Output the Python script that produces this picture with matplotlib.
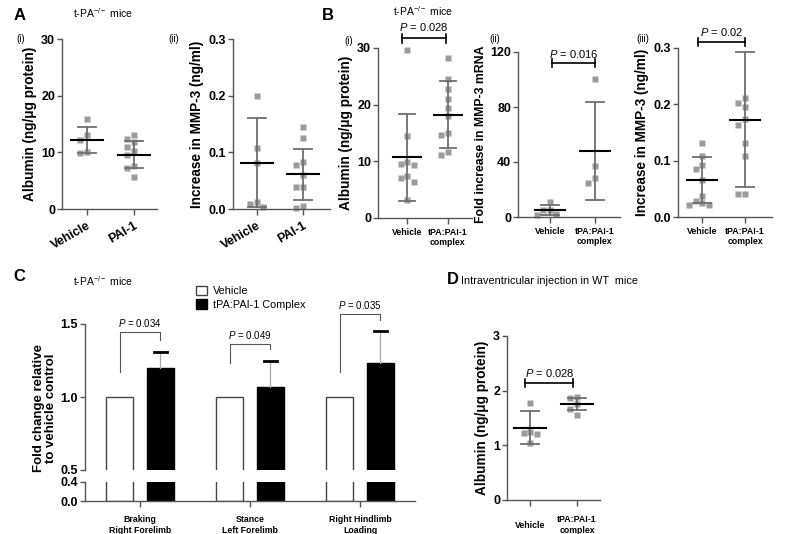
import numpy as np
import matplotlib
matplotlib.use("Agg")
import matplotlib.pyplot as plt
from matplotlib.patches import Patch

W, H = 789, 534
plt.rcParams['font.family'] = ['Liberation Sans', 'DejaVu Sans']
plt.rcParams['mathtext.fontset'] = 'custom'
plt.rcParams['mathtext.rm'] = 'Liberation Sans'
plt.rcParams['mathtext.it'] = 'Liberation Sans:italic'

# ---- panel A: t-PA-/- mice, Vehicle vs PAI-1
a_cats = ['Vehicle', 'PAI-1']
a1_vehicle = [15.9, 13.0, 12.2, 10.0, 9.8]
a1_pai1 = [13.1, 12.4, 11.8, 11.0, 10.3, 9.6, 7.6, 7.2, 5.7]
a1_mean = [12.2, 9.6]
a1_sd = [2.3, 2.4]
a2_vehicle = [0.200, 0.107, 0.081, 0.013, 0.008, 0.004]
a2_pai1 = [0.144, 0.125, 0.083, 0.077, 0.060, 0.039, 0.038, 0.006, 0.002]
a2_mean = [0.082, 0.061]
a2_sd = [0.079, 0.045]

# ---- panel B: t-PA-/- mice, Vehicle vs tPA:PAI-1 complex
b_cats = ['Vehicle', 'tPA:PAI-1\ncomplex']
b1_vehicle = [29.7, 14.4, 9.9, 9.5, 9.4, 7.5, 7.1, 6.4, 3.2]
b1_complex = [28.2, 24.5, 22.8, 21.0, 19.5, 18.0, 15.0, 14.6, 11.6, 11.2]
b1_mean = [10.7, 18.2]
b1_sd = [7.7, 5.9]
b2_vehicle = [11.0, 5.4, 4.8, 2.4, 1.2]
b2_complex = [100.5, 37.2, 28.5, 24.8]
b2_mean = [5.0, 47.8]
b2_sd = [3.8, 35.6]
b3_vehicle = [0.131, 0.108, 0.092, 0.086, 0.065, 0.037, 0.028, 0.025, 0.021, 0.021]
b3_complex = [0.212, 0.203, 0.196, 0.174, 0.163, 0.131, 0.108, 0.040, 0.040]
b3_mean = [0.065, 0.173]
b3_sd = [0.041, 0.120]

# ---- panel C: gait parameters
c_groups = ['Braking\nRight Forelimb', 'Stance\nLeft Forelimb', 'Right Hindlimb\nLoading']
c_vehicle = [1.0, 1.0, 1.0]
c_complex = [1.20, 1.07, 1.23]
c_complex_err = [0.11, 0.18, 0.22]
c_pvals = ['0.034', '0.049', '0.035']

# ---- panel D: intraventricular injection in WT mice
d_vehicle = [1.78, 1.24, 1.22, 1.20, 1.05]
d_complex = [1.885, 1.87, 1.76, 1.67, 1.55]
d_mean = [1.32, 1.75]
d_sd = [0.30, 0.11]

GREY = '#9c9c9c'
SPINE = '#555555'


def px_rect(x0, y0, x1, y1):
    return [x0 / W, 1 - y1 / H, (x1 - x0) / W, (y1 - y0) / H]


def style_axis(ax):
    for s in ['top', 'right']:
        ax.spines[s].set_visible(False)
    for s in ['left', 'bottom']:
        ax.spines[s].set_color(SPINE)
        ax.spines[s].set_linewidth(1.0)
    ax.tick_params(colors=SPINE, length=4, width=1.0, labelcolor='black')
    ax.tick_params(axis='y', pad=1.5, length=3.5)


def swarm(vals, x0, dx, dy):
    # simple deterministic beeswarm so squares don't overlap
    xs = np.zeros(len(vals))
    placed = []
    for i in np.argsort(vals)[::-1]:
        v = vals[i]
        for k in [0, -1, 1, -2, 2, -3, 3]:
            x = x0 + k * dx
            if all(abs(x - px) > dx * 0.9 or abs(v - pv) > dy for px, pv in placed):
                break
        placed.append((x, v))
        xs[i] = x
    return xs


def dot_panel(rect, xlim, ylim, yticks, yfmt, ylabel, cats, groups, means, sds,
              rotate=False, ylabel_pad=3, xva='top', ylabel_size=9.8):
    ax = fig.add_axes(px_rect(*rect))
    style_axis(ax)
    ax.set_xlim(*xlim)
    ax.set_ylim(*ylim)
    wpx = rect[2] - rect[0]
    hpx = rect[3] - rect[1]
    dx = 6.5 / (wpx / (xlim[1] - xlim[0]))
    dy = 6.5 / (hpx / (ylim[1] - ylim[0]))
    for i, vals in enumerate(groups):
        vals = np.asarray(vals)
        xs = swarm(vals, i, dx, dy)
        ax.plot(xs, vals, 's', ms=4.5, color=GREY, mec='none', clip_on=False, zorder=2)
        lo, hi = means[i] - sds[i], means[i] + sds[i]
        ax.plot([i, i], [max(lo, ylim[0]), hi], color='#6e6e6e', lw=1.3, zorder=3, clip_on=False)
        for y in (lo, hi):
            if y >= ylim[0]:
                ax.plot([i - 0.2, i + 0.2], [y, y], color='#6e6e6e', lw=1.3, zorder=3, clip_on=False)
        ax.plot([i - 0.34, i + 0.34], [means[i], means[i]], color='black', lw=1.5, zorder=4)
    ax.set_yticks(yticks)
    ax.set_yticklabels([yfmt.format(t) for t in yticks], fontweight='bold', fontsize=9)
    ax.set_xticks(range(len(cats)))
    if rotate:
        ax.set_xticklabels(cats, rotation=30, ha='right', rotation_mode='anchor',
                           fontweight='bold', fontsize=9)
    else:
        ax.set_xticklabels(cats, fontweight='bold', fontsize=6.3, linespacing=1.15, va=xva)
    ax.set_ylabel(ylabel, fontweight='bold', fontsize=ylabel_size, labelpad=ylabel_pad)
    return ax


def p_bracket(ax, x0, x1, y, text, dy_txt):
    ax.plot([x0, x1], [y, y], color='black', lw=1.2, clip_on=False)
    ylo, yhi = ax.get_ylim()
    tick = (yhi - ylo) * 0.025
    for x in (x0, x1):
        ax.plot([x, x], [y - tick, y + tick], color='black', lw=1.2, clip_on=False)
    ax.text((x0 + x1) / 2, y + dy_txt, text, ha='center', va='bottom', fontsize=8,
            clip_on=False)


fig = plt.figure(figsize=(W / 100, H / 100), dpi=100)

# ---------------- A ----------------
fig.text(14 / W, 1 - 20 / H, 'A', fontsize=12, fontweight='bold')
fig.text(73 / W, 1 - 18 / H, 't-PA$^{-/-}$ mice', fontsize=7.5)
fig.text(16 / W, 1 - 42 / H, '(i)', fontsize=7)
fig.text(168 / W, 1 - 42 / H, '(ii)', fontsize=7)
dot_panel((62, 39, 157, 209), (-0.53, 1.49), (0, 30), [0, 10, 20, 30], '{:.0f}',
          'Albumin (ng/μg protein)', a_cats, [a1_vehicle, a1_pai1], a1_mean, a1_sd,
          rotate=True)
dot_panel((233, 39, 330, 209), (-0.52, 1.59), (0, 0.3), [0, 0.1, 0.2, 0.3], '{:.1f}',
          'Increase in MMP-3 (ng/ml)', a_cats, [a2_vehicle, a2_pai1], a2_mean, a2_sd,
          rotate=True)

# ---------------- B ----------------
fig.text(322 / W, 1 - 20 / H, 'B', fontsize=12, fontweight='bold')
fig.text(423 / W, 1 - 16 / H, 't-PA$^{-/-}$ mice', fontsize=7.5, ha='center')
fig.text(344 / W, 1 - 44 / H, '(i)', fontsize=7)
fig.text(489 / W, 1 - 42 / H, '(ii)', fontsize=7)
fig.text(636 / W, 1 - 42 / H, '(iii)', fontsize=7)
ax_b1 = dot_panel((378, 48, 472, 218), (-0.71, 1.59), (0, 30), [0, 10, 20, 30], '{:.0f}',
                  'Albumin (ng/μg protein)', b_cats, [b1_vehicle, b1_complex], b1_mean, b1_sd)
p_bracket(ax_b1, -0.12, 0.95, 31.7, '$P$ = 0.028', 0.9)
ax_b2 = dot_panel((518, 52, 620, 217), (-0.71, 1.56), (0, 120), [0, 40, 80, 120], '{:.0f}',
                  'Fold increase in MMP-3 mRNA', b_cats, [b2_vehicle, b2_complex], b2_mean, b2_sd,
                  ylabel_pad=2, ylabel_size=8.8)
p_bracket(ax_b2, 0.04, 1.0, 112, '$P$ = 0.016', 2.5)
ax_b3 = dot_panel((678, 48, 772, 217), (-0.56, 1.63), (0, 0.3), [0, 0.1, 0.2, 0.3], '{:.1f}',
                  'Increase in MMP-3 (ng/ml)', b_cats, [b3_vehicle, b3_complex], b3_mean, b3_sd)
p_bracket(ax_b3, -0.1, 1.0, 0.311, '$P$ = 0.02', 0.006)

# ---------------- C ----------------
fig.text(13 / W, 1 - 281 / H, 'C', fontsize=12, fontweight='bold')
fig.text(73 / W, 1 - 286 / H, 't-PA$^{-/-}$ mice', fontsize=7.5)
ax_cu = fig.add_axes(px_rect(85, 324, 415, 470))
ax_cl = fig.add_axes(px_rect(85, 482, 415, 501))
xg = np.arange(len(c_groups))
bw, off = 0.245, 0.186
for ax in (ax_cu, ax_cl):
    style_axis(ax)
    ax.bar(xg - off, c_vehicle, bw, color='white', edgecolor='#444444', lw=1.0)
    ax.bar(xg + off, c_complex, bw, color='black', edgecolor='black', lw=1.0)
    ax.set_xlim(-0.5, 2.5)
ax_cu.spines['bottom'].set_visible(False)
ax_cu.tick_params(axis='x', bottom=False, labelbottom=False)
ax_cu.set_ylim(0.5, 1.5)
ax_cu.set_yticks([0.5, 1.0, 1.5])
ax_cu.set_yticklabels(['0.5', '1.0', '1.5'], fontweight='bold', fontsize=9)
ax_cl.set_ylim(0, 0.4)
ax_cl.set_yticks([0.0, 0.4])
ax_cl.set_yticklabels(['0.0', '0.4'], fontweight='bold', fontsize=9)
ax_cl.set_xticks(xg)
ax_cl.set_xticklabels(c_groups, fontweight='bold', fontsize=6.3, linespacing=1.25)
ax_cl.tick_params(axis='x', pad=6)
# upper error bars
for i in xg:
    top = c_complex[i] + c_complex_err[i]
    ax_cu.plot([i + off, i + off], [c_complex[i], top], color='#aaaaaa', lw=0.9, zorder=3)
    ax_cu.plot([i + off - 0.06, i + off + 0.06], [top, top], color='black', lw=2, zorder=3)
# significance brackets
br_left = [1.17, 1.23, 1.17]
br_top = [1.445, 1.365, 1.57]
br_right = [1.39, 1.33, 1.53]
for i in xg:
    ax_cu.plot([i - off, i - off, i + off, i + off], [br_left[i], br_top[i], br_top[i], br_right[i]],
               color='#555555', lw=0.8, clip_on=False)
    ax_cu.text(i, br_top[i] + 0.02, '$P$ = ' + c_pvals[i], ha='center', va='bottom', fontsize=7,
               clip_on=False)
fig.text(45 / W, 1 - 408 / H, 'Fold change relative\nto vehicle control', rotation=90,
         fontsize=9.5, fontweight='bold', ha='center', va='center', linespacing=1.05)
fig.legend(handles=[Patch(facecolor='white', edgecolor='#444444', lw=1.0),
                    Patch(facecolor='black', edgecolor='black')],
           labels=['Vehicle', 'tPA:PAI-1 Complex'], loc='upper left',
           bbox_to_anchor=(186 / W, 1 - 276 / H), frameon=False, handlelength=1.0,
           handleheight=1.0, handletextpad=0.6, labelspacing=0.25,
           prop={'size': 7.8})

# ---------------- D ----------------
fig.text(447 / W, 1 - 284 / H, 'D', fontsize=12, fontweight='bold')
fig.text(461 / W, 1 - 284 / H, 'Intraventricular injection in WT  mice', fontsize=7.8)
ax_d = dot_panel((507, 336, 600, 500), (-0.49, 1.49), (0, 3), [0, 1, 2, 3], '{:.0f}',
                 'Albumin (ng/μg protein)', b_cats, [d_vehicle, d_complex], d_mean, d_sd,
                 xva='center')
ax_d.tick_params(axis='x', pad=14)
p_bracket(ax_d, -0.1, 0.92, 2.14, '$P$ = 0.028', 0.08)

fig.savefig('out.png', dpi=100)
